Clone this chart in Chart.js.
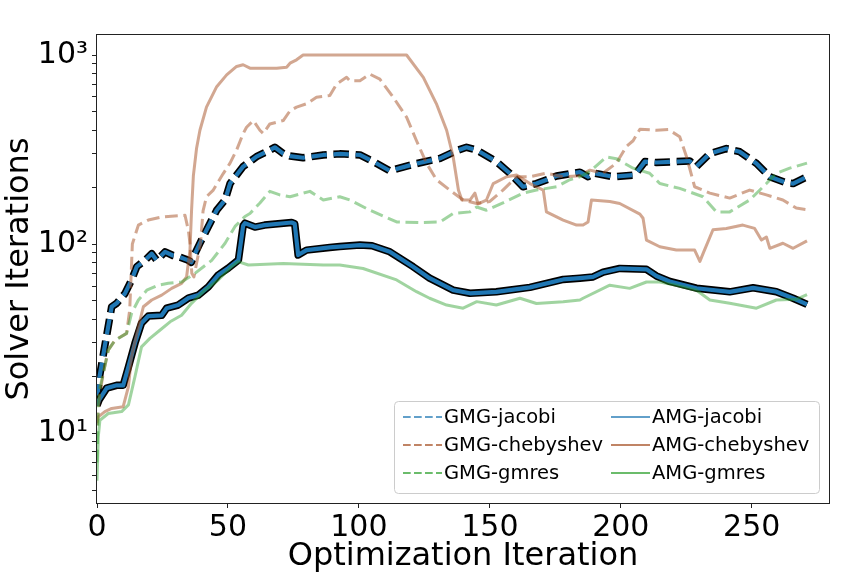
<!DOCTYPE html>
<html>
<head>
<meta charset="utf-8">
<script src="https://cdn.jsdelivr.net/npm/chart.js@4.4.0/dist/chart.umd.min.js"></script>
<style>
  body { margin: 0; background: #fff; }
</style>
</head>
<body>
<canvas id="chart" width="864" height="576"></canvas>
<script>
// values (iteration, solver iterations)
const gmgJacobiX = [0, 1, 3, 5.6, 7.5, 10.7, 13.2, 15.2, 18.3, 20.9, 22.8, 26, 29, 31, 34.9, 36, 37.4, 39.3, 41.2, 45.7, 48.9, 50.8, 55.8, 60.9, 66, 67.9, 71.1, 73.7, 78.7, 86.4, 92.7, 100.4, 105.5, 111.8, 120.7, 131, 137.3, 141.1, 145, 152.5, 157.6, 162.7, 167.8, 175.5, 184.4, 187.5, 190, 197, 205.3, 209.2, 213.6, 226.3, 228.9, 234, 240.3, 245.4, 251.8, 256.9, 263.2, 265.8, 271.1];
const gmgJacobiY = [15, 20, 29, 46.6, 48.6, 54.8, 64.6, 76, 82, 89, 82, 91, 87, 86, 82, 80, 89, 101, 114, 151, 171, 209, 257, 290, 314, 325, 301, 292, 286, 296, 300, 296, 273, 244, 264, 284, 312, 325, 314, 273, 237, 201, 209, 229, 240, 227, 237, 227, 232, 273, 270, 275, 257, 301, 320, 308, 267, 227, 211, 209, 227];

const amgJacobiX = [0, 0.8, 3.7, 7.5, 10, 12, 14.5, 17, 19.6, 24.7, 26.6, 31, 34.9, 38.7, 42.5, 46.3, 50.1, 54, 55.8, 56.5, 60.3, 64, 74.3, 75.5, 76.8, 80, 88.9, 92.7, 100.4, 105, 111.8, 120.7, 127, 136, 142.4, 152.5, 165.3, 178, 184.4, 189.4, 193.3, 199.6, 209.8, 213.6, 218.7, 228.9, 241.6, 250.5, 259.4, 265.8, 271.1];
const amgJacobiY = [14, 15, 17.3, 17.9, 17.9, 22.4, 29.9, 38.2, 41.6, 42, 45.8, 47.6, 51.8, 53.7, 59.4, 68.6, 74.6, 82.3, 125, 129, 123, 126, 130, 128, 87.5, 92.9, 96, 97, 98.8, 98, 91, 75.9, 66, 57.1, 54.9, 55.9, 59, 65, 66, 67, 71, 74.3, 73.5, 67.8, 63.4, 58.4, 55.9, 58.7, 56, 51.7, 48];

const gmgChebX = [0, 1, 2.4, 4.3, 6.9, 11.3, 12.5, 13.5, 15.8, 19.6, 24.7, 33.6, 34.9, 35.5, 36.2, 37, 38, 39.5, 40.5, 41.8, 44.4, 48.2, 50.8, 53.3, 55.8, 57.1, 59.7, 62.2, 63.5, 66, 71.1, 73.7, 76.2, 80, 83.8, 88.9, 91.5, 95.3, 96.6, 100.4, 104.2, 108, 113.1, 118.2, 122, 125.8, 129.6, 134.7, 139.8, 145, 150, 155, 160.2, 165.3, 171.6, 178, 184.4, 188.2, 193.2, 198.3, 202.2, 204.7, 207.3, 213.6, 218.1, 222.5, 225.1, 228.2, 234, 241.6, 249.2, 255.6, 261.9, 267, 271.1];
const gmgChebY = [11, 16, 20.7, 27.5, 31, 33.7, 45, 100, 126, 134, 139, 142, 118, 101, 70, 67, 79, 100, 150, 178, 193, 236, 268, 314, 384, 415, 450, 400, 384, 432, 450, 507, 530, 552, 598, 610, 703, 762, 730, 730, 792, 745, 598, 469, 352, 268, 219, 193, 171, 164, 168, 193, 227, 227, 237, 227, 230, 246, 237, 268, 329, 352, 405, 400, 404, 370, 290, 201, 186, 175, 193, 182, 171, 155, 152];

const amgChebX = [0, 0.5, 3, 5.6, 10, 12, 13.2, 15.2, 17.7, 20.9, 24.7, 28.5, 32.3, 34.2, 35.5, 36.1, 36.8, 38, 39.3, 41.8, 45.7, 49.5, 53.3, 55.8, 58.4, 68.6, 72.4, 73.7, 76.2, 78.7, 118.2, 124.6, 129.6, 133.5, 136, 138, 139.3, 142.4, 144.3, 145.5, 148.7, 151.3, 156.4, 160.2, 165.3, 170.4, 171.6, 178, 183.1, 185.6, 187.5, 188.8, 195.8, 199.6, 207.3, 208.5, 209.8, 214.9, 221.2, 228.2, 230.2, 231.4, 235.2, 240.3, 246.6, 251.1, 253.7, 255.6, 256.9, 261.9, 265.8, 271.1];
const amgChebY = [11.3, 12.2, 13, 13.5, 13.8, 17.6, 25.4, 33.7, 46.6, 50.6, 53.7, 58.3, 62, 67, 93, 150, 230, 320, 400, 530, 680, 785, 870, 888, 852, 852, 862, 905, 943, 1000, 1000, 762, 552, 400, 289, 193, 171, 171, 186, 163, 171, 209, 227, 232, 209, 193, 148, 134, 126, 126, 131, 171, 168, 164, 144, 137, 105, 96.8, 93, 93, 81, 89, 119, 121, 126, 121, 105, 109, 95, 101, 95, 104];

const gmgGmresX = [0, 0.5, 1, 2.4, 4.3, 6.9, 11.3, 13.2, 15.8, 19, 23.4, 27.2, 32.3, 37.4, 43.8, 48.9, 52.7, 56.5, 58.4, 62.2, 66, 69.8, 73.7, 81.3, 86.4, 92.7, 96.6, 104.2, 114.4, 123.3, 131, 136, 142.4, 145, 148.7, 155, 162.7, 167.8, 175.5, 180.5, 184.4, 188.2, 194.5, 198.3, 204.7, 211, 214.9, 222.5, 231.4, 236.5, 241.6, 249.2, 255.6, 259.4, 264.5, 271.1];
const gmgGmresY = [7, 14, 17, 20.7, 27.5, 31, 33.7, 43, 50.6, 57, 60.6, 62, 63, 70, 82, 101, 124, 140, 145, 165, 190, 182, 178, 190, 171, 178, 171, 151, 131, 130, 131, 145, 148, 157, 151, 165, 186, 193, 201, 219, 227, 242, 289, 283, 252, 237, 209, 197, 178, 148, 148, 171, 209, 237, 252, 268];

const amgGmresX = [0, 0.5, 1.1, 4.3, 9.4, 12, 14.5, 17, 20.2, 24, 27.9, 32.3, 36.1, 41.2, 46.3, 51.4, 53.9, 57.8, 71.1, 86.4, 92.7, 101.6, 114.4, 122, 127, 133.5, 139.8, 145, 152.5, 161.5, 167.8, 178, 184.4, 185.6, 195.8, 203.4, 209.8, 214.9, 221.2, 228.9, 234, 241.6, 251.8, 259.4, 267, 271.1];
const amgGmresY = [5.6, 9.6, 11.7, 12.7, 13, 14.1, 19.9, 28.6, 31.7, 35, 38.8, 42, 48.6, 57, 64.6, 76, 80.7, 77.5, 79, 77.5, 77.5, 74.3, 64.6, 56, 51.7, 47.6, 45.8, 49.6, 47.6, 51.7, 48.5, 49.6, 50.6, 51.7, 60.6, 58.3, 63, 63, 60.6, 57, 50.6, 48.6, 45.8, 50.6, 51, 54];

const xTicks = [0, 50, 100, 150, 200, 250];
const yTickValues = [5, 6, 7, 8, 9, 10, 20, 30, 40, 50, 60, 70, 80, 90, 100, 200, 300, 400, 500, 600, 700, 800, 900, 1000];
const yTickLabels = {10: '10\u00b9', 100: '10\u00b2', 1000: '10\u00b3'};

const legendLabels = [['GMG-jacobi', 'GMG-chebyshev', 'GMG-gmres'], ['AMG-jacobi', 'AMG-chebyshev', 'AMG-gmres']];
const legendColors = ['rgba(31,119,180,0.7)', 'rgba(165,80,35,0.7)', 'rgba(44,160,44,0.7)'];

const blue = '#1f77b4';
const tan = 'rgba(165,80,35,0.5)';
const green = 'rgba(44,160,44,0.45)';
const FONT = 'DejaVu Sans';

function pts(xs, ys) {
    return xs.map((x, i) => ({x: x, y: ys[i]}));
}

function line(label, xs, ys, color, width, dash) {
    return {
	label: label,
	data: pts(xs, ys),
	borderColor: color,
	borderWidth: width,
	borderDash: dash || [],
	borderCapStyle: 'butt',
	borderJoinStyle: 'round',
	pointRadius: 0,
	tension: 0,
	fill: false
    };
}

// index 0 is drawn on top
const datasets = [
    line('AMG-gmres', amgGmresX, amgGmresY, green, 3),
    line('GMG-gmres', gmgGmresX, gmgGmresY, green, 3, [12.8, 5.6]),
    line('AMG-chebyshev', amgChebX, amgChebY, tan, 3),
    line('GMG-chebyshev', gmgChebX, gmgChebY, tan, 3, [12.8, 5.6]),
    line('AMG-jacobi', amgJacobiX, amgJacobiY, blue, 4.2),
    line('AMG-jacobi-edge', amgJacobiX, amgJacobiY, '#000', 7.5),
    line('GMG-jacobi', gmgJacobiX, gmgJacobiY, blue, 4.2, [15.4, 6.7]),
    line('GMG-jacobi-edge', gmgJacobiX, gmgJacobiY, '#000', 7.5, [15.4, 6.7])
];

const framePlugin = {
    id: 'frame',
    afterDatasetsDraw(chart) {
	const a = chart.chartArea;
	const ctx = chart.ctx;
	ctx.save();
	ctx.strokeStyle = '#222';
	ctx.lineWidth = 1;
	ctx.strokeRect(Math.round(a.left) - 0.5, Math.round(a.top) - 0.5, Math.round(a.right - a.left) + 1, Math.round(a.bottom - a.top) + 1);
	ctx.restore();
    }
};

const legendPlugin = {
    id: 'colLegend',
    afterDraw(chart) {
	const ctx = chart.ctx;
	ctx.save();
	ctx.beginPath();
	ctx.roundRect(394.5, 401.5, 425, 92, 4);
	ctx.fillStyle = 'rgba(255,255,255,0.8)';
	ctx.fill();
	ctx.strokeStyle = '#cccccc';
	ctx.lineWidth = 1;
	ctx.stroke();
	ctx.font = '19.5px "' + FONT + '"';
	ctx.textBaseline = 'middle';
	ctx.fillStyle = '#000';
	const colX = [403, 611];
	const rowY = [417, 445, 473];
	for (let c = 0; c < 2; c++) {
	    for (let r = 0; r < 3; r++) {
		ctx.beginPath();
		ctx.setLineDash(c == 0 ? [7.7, 3.3] : []);
		ctx.strokeStyle = legendColors[r];
		ctx.lineWidth = 2;
		ctx.moveTo(colX[c], rowY[r]);
		ctx.lineTo(colX[c] + 39, rowY[r]);
		ctx.stroke();
		ctx.setLineDash([]);
		ctx.fillText(legendLabels[c][r], colX[c] + 41, rowY[r] + 1);
	    }
	}
	ctx.restore();
    }
};

const ctx = document.getElementById('chart');
new Chart(ctx, {
    type: 'line',
    data: { datasets: datasets },
    options: {
	responsive: false,
	animation: false,
	devicePixelRatio: 1,
	layout: { padding: { top: 35, right: 35, left: 0, bottom: 0 } },
	plugins: {
	    legend: { display: false },
	    tooltip: { enabled: false }
	},
	scales: {
	    x: {
		type: 'linear',
		min: 0,
		max: 279.5,
		afterFit: (scale) => { scale.height = 73; },
		afterBuildTicks: (scale) => { scale.ticks = xTicks.map(v => ({value: v})); },
		ticks: {
		    includeBounds: false,
		    autoSkip: false,
		    maxRotation: 0,
		    padding: 2,
		    color: '#000',
		    font: { family: FONT, size: 30 }
		},
		grid: { drawOnChartArea: false, drawTicks: true, tickLength: 5, tickColor: '#222' },
		border: { display: false },
		title: {
		    display: true,
		    text: 'Optimization Iteration',
		    color: '#000',
		    font: { family: FONT, size: 32 },
		    padding: { top: 0, bottom: 0 }
		}
	    },
	    y: {
		type: 'logarithmic',
		min: 4.27,
		max: 1276,
		afterFit: (scale) => { scale.width = 97; },
		afterBuildTicks: (scale) => { scale.ticks = yTickValues.map(v => ({value: v})); },
		ticks: {
		    autoSkip: false,
		    padding: 4,
		    color: '#000',
		    font: { family: FONT, size: 30 },
		    callback: (v) => yTickLabels[v] || ''
		},
		grid: {
		    drawOnChartArea: false,
		    drawTicks: true,
		    tickLength: 5,
		    tickColor: '#222'
		},
		border: { display: false },
		title: {
		    display: true,
		    text: 'Solver Iterations',
		    color: '#000',
		    font: { family: FONT, size: 32 },
		    padding: { top: 0, bottom: 0 }
		}
	    }
	}
    },
    plugins: [framePlugin, legendPlugin]
});
</script>
</body>
</html>
